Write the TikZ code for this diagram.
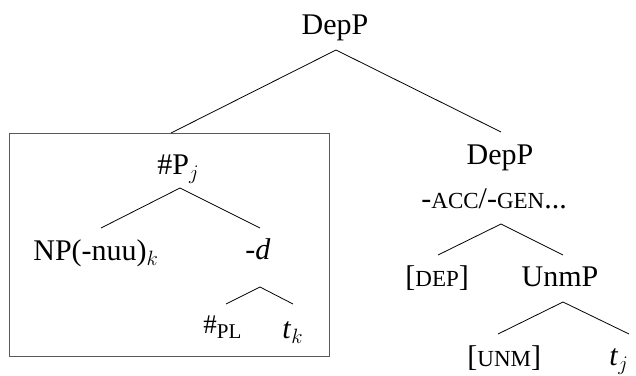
\documentclass[tikz,border=0pt]{standalone}
\usepackage{fontspec}
\setmainfont{Liberation Serif}
\usepackage{amsmath}

\newcommand{\smc}[1]{{\fontsize{23}{23}\selectfont #1}}

\begin{document}
\begin{tikzpicture}[x=1pt,y=-1pt,font=\fontsize{30}{34}\selectfont,line width=0.8pt]
				\useasboundingbox (0,0) rectangle (636,375);
				
				% apexes and line ends
				\coordinate (topapex) at (336,50);
				\coordinate (boxtop) at (171,133);
				\coordinate (depend) at (501,132);
				\coordinate (papex) at (180,188);
				\coordinate (npend) at (101,228);
				\coordinate (dend) at (260,228);
				\coordinate (dapex) at (260,287);
				\coordinate (plend) at (226,304);
				\coordinate (tkend) at (293,304);
				\coordinate (caseapex) at (501,224);
				\coordinate (depfend) at (438,255);
				\coordinate (unmend) at (563,255);
				\coordinate (unmapex) at (563,302);
				\coordinate (unmfend) at (498,334);
				\coordinate (tjend) at (629,334);
				
				\node (dep) at (335,34) [anchor=base] {DepP};
				\node (numP) at (157,174) [anchor=base west,inner sep=0pt] {\#P$_j$};
				\node (np) at (33,260) [anchor=base west,inner sep=0pt] {NP(-nuu)$_k$};
				\node (d) at (258,259) [anchor=base] {\textit{-d}};
				\node (pl) at (203,338) [anchor=base west,inner sep=0pt] {\raisebox{5pt}{\fontsize{27}{27}\selectfont\#}{\fontsize{21}{21}\selectfont PL}};
				\node (tk) at (282,338) [anchor=base west,inner sep=0pt] {\textit{t}$_k$};
				\node (dep2) at (500,164) [anchor=base] {DepP};
				\node (case) at (421,208) [anchor=base west,inner sep=0pt] {-\smc{ACC}/-\smc{GEN}...};
				\node (depf) at (405,286) [anchor=base west,inner sep=0pt] {[\smc{DEP}]};
				\node (unm) at (560,286) [anchor=base] {UnmP};
				\node (unmf) at (467,366) [anchor=base west,inner sep=0pt] {[\smc{UNM}]};
				\node (tj) at (609,365) [anchor=base west,inner sep=0pt] {\textit{t}$_j$};
				
				\draw[black!65,line width=1pt] (9,133) rectangle (329,356);
				
				\draw (boxtop) -- (topapex) -- (depend);
				\draw (npend) -- (papex) -- (dend);
				\draw (plend) -- (dapex) -- (tkend);
				\draw (depfend) -- (caseapex) -- (unmend);
				\draw (unmfend) -- (unmapex) -- (tjend);
			\end{tikzpicture}
\end{document}
